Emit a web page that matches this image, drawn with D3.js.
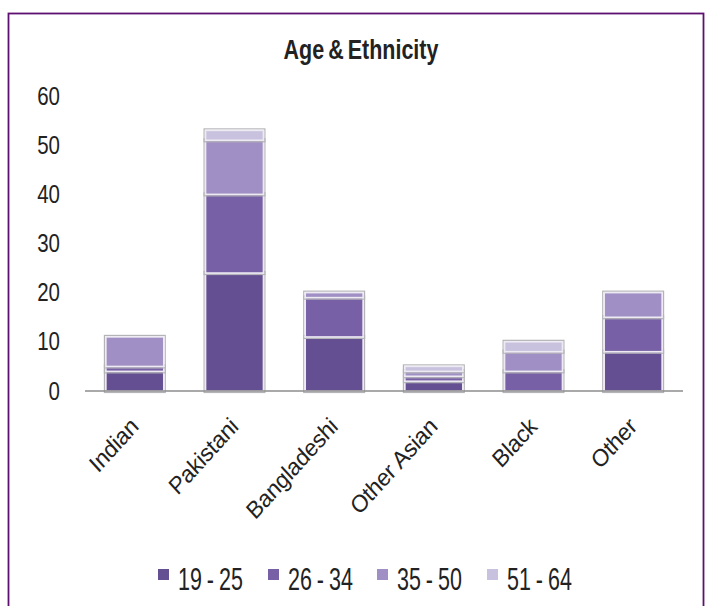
<!DOCTYPE html>
<html>
<head>
<meta charset="utf-8">
<script src="https://cdn.jsdelivr.net/npm/d3@7"></script>
<style>
  html, body { margin: 0; padding: 0; background: #fff; }
  svg { display: block; }
  text { font-family: "Liberation Sans", Arial, sans-serif; fill: #222; }
</style>
</head>
<body>
<svg id="chart" width="709" height="606"></svg>
<script>
// ---- data ----
const categories = ["Indian", "Pakistani", "Bangladeshi", "Other Asian", "Black", "Other"];
const seriesNames = ["19 - 25", "26 - 34", "35 - 50", "51 - 64"];
const age19_25 = [4, 24, 11, 2, 0, 8];
const age26_34 = [1, 16, 8, 1, 4, 7];
const age35_50 = [6, 11, 1, 1, 4, 5];
const age51_64 = [0, 2, 0, 1, 2, 0];
const yTicks = [0, 10, 20, 30, 40, 50, 60];
const colors = ["#644f92", "#7760a6", "#a08fc4", "#c8c2de"];
const title = "Age & Ethnicity";

const svg = d3.select("#chart");

// outer frame
svg.append("rect")
  .attr("x", 8.5).attr("y", 13.5)
  .attr("width", 695).attr("height", 620)
  .attr("fill", "#fff")
  .attr("stroke", "#5e1070").attr("stroke-width", 1.8);

// title (vertically stretched like the reference)
svg.append("text")
  .attr("transform", "translate(361,59) scale(1,1.25)")
  .attr("text-anchor", "middle")
  .attr("font-size", 21.5).attr("font-weight", "bold")
  .attr("word-spacing", -2)
  .text(title);

const x = d3.scaleBand().domain(categories).range([85, 683])
  .paddingInner(0.42).paddingOuter(0.21);
const y = d3.scaleLinear().domain([0, 60]).range([391, 96]);

// y tick labels
svg.append("g").selectAll("text").data(yTicks).join("text")
  .attr("transform", d => `translate(60,${y(d) + 8.5}) scale(1,1.22)`)
  .attr("text-anchor", "end")
  .attr("font-size", 20.5)
  .text(d => d);

// stacked data
const table = categories.map((c, i) => ({
  cat: c,
  "19 - 25": age19_25[i], "26 - 34": age26_34[i],
  "35 - 50": age35_50[i], "51 - 64": age51_64[i]
}));
const stacked = d3.stack().keys(seriesNames)(table);

const bars = svg.append("g");
stacked.forEach((layer, li) => {
  layer.forEach(seg => {
    if (seg[1] - seg[0] <= 0) return;
    const x0 = x(seg.data.cat), w = x.bandwidth();
    const y0 = y(seg[1]), h = y(seg[0]) - y(seg[1]);
    bars.append("rect")
      .attr("x", x0 - 1.5).attr("y", y0 - 1.5)
      .attr("width", w + 3).attr("height", h + 3)
      .attr("fill", "none").attr("stroke", "#b4b4b8").attr("stroke-width", 1.2);
    bars.append("rect")
      .attr("x", x0).attr("y", y0)
      .attr("width", w).attr("height", h)
      .attr("fill", colors[li])
      .attr("stroke", "#eeeaf4").attr("stroke-width", 1.5);
  });
});

// x axis line
svg.append("line")
  .attr("x1", 85).attr("x2", 683)
  .attr("y1", y(0)).attr("y2", y(0))
  .attr("stroke", "#8c8c8c").attr("stroke-width", 1.5);

// category labels (rotated, slightly stretched)
svg.append("g").selectAll("text").data(categories).join("text")
  .attr("transform", d => `translate(${x(d) + x.bandwidth() / 2 + 5},${428}) scale(1,1.1) rotate(-45)`)
  .attr("text-anchor", "end")
  .attr("font-size", 22)
  .attr("letter-spacing", -0.2)
  .text(d => d);

// legend
const legendX = [158, 268, 377, 487];
const lg = svg.append("g");
seriesNames.forEach((s, i) => {
  lg.append("rect")
    .attr("x", legendX[i]).attr("y", 569)
    .attr("width", 11).attr("height", 11)
    .attr("fill", colors[i]);
  lg.append("text")
    .attr("transform", `translate(${legendX[i] + 20},${590}) scale(1,1.5)`)
    .attr("font-size", 21.5)
    .attr("word-spacing", -1)
    .text(s);
});
</script>
</body>
</html>
